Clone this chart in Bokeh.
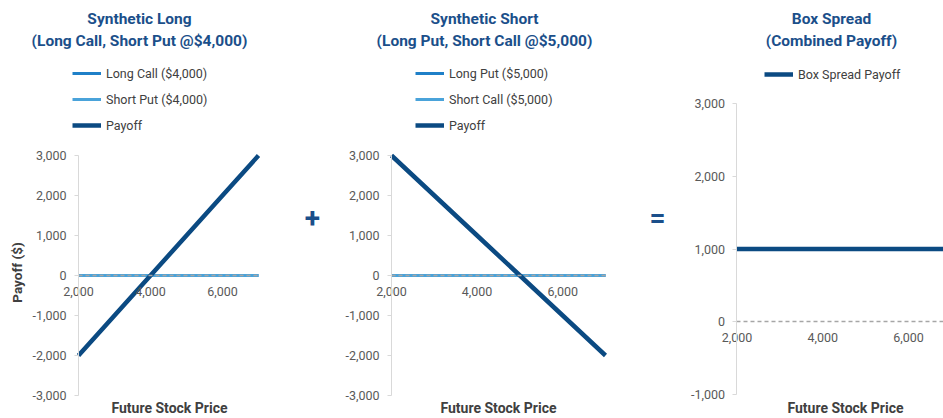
import math
from bokeh.plotting import figure
from bokeh.layouts import row
from bokeh.models import (FixedTicker, NumeralTickFormatter, LinearAxis, Legend,
                          LegendItem, Label, Range1d)
from bokeh.embed import file_html
from bokeh.resources import INLINE

# ---------------- data ----------------
stock_price = [2000, 3000, 4000, 5000, 6000, 7000]

long_call_4000 = [0, 0, 0, 0, 0, 0]
short_put_4000 = [0, 0, 0, 0, 0, 0]
synthetic_long_payoff = [-2000, -1000, 0, 1000, 2000, 3000]

long_put_5000 = [0, 0, 0, 0, 0, 0]
short_call_5000 = [0, 0, 0, 0, 0, 0]
synthetic_short_payoff = [3000, 2000, 1000, 0, -1000, -2000]

box_spread_payoff = [1000, 1000, 1000, 1000, 1000, 1000]

x_ticks = [2000, 4000, 6000]
y_ticks_synthetic = [-3000, -2000, -1000, 0, 1000, 2000, 3000]
y_ticks_box = [-1000, 0, 1000, 2000, 3000]

title_long = ["Synthetic Long", "(Long Call, Short Put @$4,000)"]
title_short = ["Synthetic Short", "(Long Put, Short Call @$5,000)"]
title_box = ["Box Spread", "(Combined Payoff)"]

legend_long = ["Long Call ($4,000)", "Short Put ($4,000)", "Payoff"]
legend_short = ["Long Put ($5,000)", "Short Call ($5,000)", "Payoff"]
legend_box = ["Box Spread Payoff"]

x_title = "Future Stock Price"
y_title = "Payoff ($)"

# ---------------- style ----------------
FONT = "Roboto"
TITLE_COLOR = "#1B4F8A"
PAYOFF_COLOR = "#0B4A82"
CALL_COLOR = "#1F80C8"
PUT_COLOR = "#4AA3DA"
TICK_COLOR = "#595959"
AXIS_TITLE_COLOR = "#404040"
H = 418


def make_fig(width, xr, yr, ybounds, yticks):
    p = figure(width=width, height=H, x_range=Range1d(*xr), y_range=Range1d(*yr),
               output_backend="svg", toolbar_location=None,
               x_axis_type=None, y_axis_type=None,
               min_border_left=0, min_border_right=0, min_border_top=0,
               min_border_bottom=0, outline_line_color=None,
               background_fill_color="white", border_fill_color="white")
    p.grid.visible = False

    yax = LinearAxis(fixed_location=2000, ticker=FixedTicker(ticks=yticks),
                     formatter=NumeralTickFormatter(format="0,0"),
                     bounds=ybounds, axis_line_color="#D9D9D9",
                     major_tick_out=4, major_tick_in=0,
                     major_tick_line_color="#D9D9D9", minor_tick_line_color=None,
                     major_label_text_font=FONT, major_label_text_font_size="12.5px",
                     major_label_text_color=TICK_COLOR, major_label_standoff=8)
    p.add_layout(yax, "left")

    xax = LinearAxis(fixed_location=0, ticker=FixedTicker(ticks=x_ticks),
                     formatter=NumeralTickFormatter(format="0,0"),
                     bounds=(2000, 7000),
                     axis_line_color="#A6A6A6", axis_line_width=1.5,
                     axis_line_dash="4 3", major_tick_in=0, major_tick_out=0,
                     minor_tick_line_color=None,
                     major_label_text_font=FONT, major_label_text_font_size="12.5px",
                     major_label_text_color=TICK_COLOR, major_label_standoff=11)
    p.add_layout(xax, "below")
    return p


def add_text(p, txt, x, y, size, color, angle=0.0, bold=True):
    p.add_layout(Label(x=x, y=y, x_units="screen", y_units="screen", text=txt,
                       text_align="center", text_baseline="middle", angle=angle,
                       text_font=FONT, text_font_size=size,
                       text_font_style="bold" if bold else "normal",
                       text_color=color))


def add_title(p, lines, cx):
    add_text(p, lines[0], cx, 400, "15.5px", TITLE_COLOR)
    add_text(p, lines[1], cx, 378, "15.5px", TITLE_COLOR)


def add_legend(p, items, vx, vy):
    lg = Legend(items=items, location=(vx, vy), padding=0, spacing=6,
                glyph_width=29, glyph_height=20, label_height=20,
                label_standoff=5, border_line_alpha=0, background_fill_alpha=0,
                label_text_font=FONT, label_text_font_size="12.5px",
                label_text_color=AXIS_TITLE_COLOR, margin=0)
    p.add_layout(lg)


# ---------------- panel 1 ----------------
p1 = make_fig(300, (-167, 8167), (-3575, 6875), (-3000, 3000), y_ticks_synthetic)
r11 = p1.line(stock_price, long_call_4000, line_color=CALL_COLOR, line_width=3)
r12 = p1.line(stock_price, short_put_4000, line_color=PUT_COLOR, line_width=3)
r13 = p1.line(stock_price, synthetic_long_payoff, line_color=PAYOFF_COLOR, line_width=4.5)
add_legend(p1, [LegendItem(label=legend_long[0], renderers=[r11]),
                LegendItem(label=legend_long[1], renderers=[r12]),
                LegendItem(label=legend_long[2], renderers=[r13])], 72, 283)
add_title(p1, title_long, 139)
add_text(p1, x_title, 169, 11, "14px", AXIS_TITLE_COLOR)
add_text(p1, y_title, 16, 146, "13.5px", AXIS_TITLE_COLOR, angle=math.pi / 2)

# ---------------- panel 2 ----------------
p2 = make_fig(340, (-126, 7818), (-3575, 6875), (-3000, 3000), y_ticks_synthetic)
r21 = p2.line(stock_price, long_put_5000, line_color=CALL_COLOR, line_width=3)
r22 = p2.line(stock_price, short_call_5000, line_color=PUT_COLOR, line_width=3)
r23 = p2.line(stock_price, synthetic_short_payoff, line_color=PAYOFF_COLOR, line_width=4.5)
add_legend(p2, [LegendItem(label=legend_short[0], renderers=[r21]),
                LegendItem(label=legend_short[1], renderers=[r22]),
                LegendItem(label=legend_short[2], renderers=[r23])], 115, 283)
add_title(p2, title_short, 184)
add_text(p2, x_title, 198, 11, "14px", AXIS_TITLE_COLOR)
add_text(p2, "+", 12, 201, "28px", TITLE_COLOR)

# ---------------- panel 3 ----------------
p3 = make_fig(303, (-249, 6814), (-1330, 4416), (-1000, 3000), y_ticks_box)
r31 = p3.line(stock_price, box_spread_payoff, line_color=PAYOFF_COLOR, line_width=4.5)
add_legend(p3, [LegendItem(label=legend_box[0], renderers=[r31])], 124, 334)
add_title(p3, title_box, 191)
add_text(p3, x_title, 205, 11, "14px", AXIS_TITLE_COLOR)
add_text(p3, "=", 17, 201, "28px", TITLE_COLOR)

layout = row(p1, p2, p3)
open("out.html", "w").write(file_html(layout, INLINE))
